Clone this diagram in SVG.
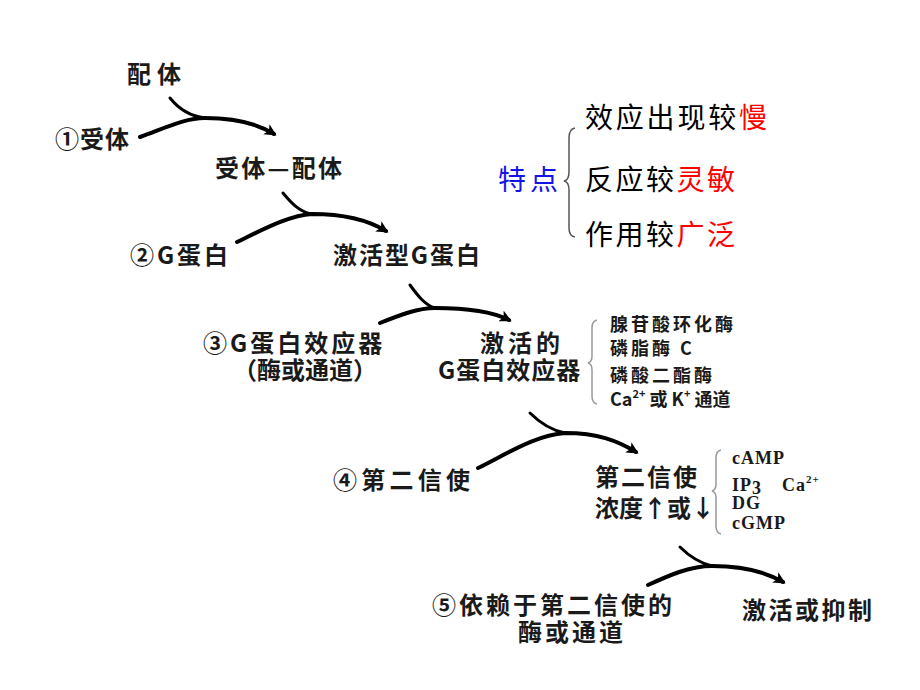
<svg xmlns="http://www.w3.org/2000/svg" width="920" height="690" viewBox="0 0 920 690">
<defs>
<style>
.l{font-family:"Noto Sans CJK SC","Noto Sans CJK TC",sans-serif;font-weight:700;font-size:24px;fill:#1a1a1a}
.s{font-family:"Noto Sans CJK SC","Noto Sans CJK TC",sans-serif;font-weight:700;font-size:18px;fill:#1a1a1a}
.m{font-family:"Liberation Serif","Noto Sans CJK SC",serif;font-weight:700;font-size:18px;fill:#1a1a1a}
.r{font-family:"Noto Sans CJK SC",sans-serif;font-weight:400;font-size:28px;fill:#000}
.red{fill:#ff0000}
.blue{fill:#1414e6}
.main{fill:none;stroke:#000;stroke-width:4;stroke-linecap:round}
.tail{fill:none;stroke:#000;stroke-width:3;stroke-linecap:round}
.brace{fill:none;stroke:#555;stroke-width:1.5}
.brace2{fill:none;stroke:#999;stroke-width:1.5}
</style>
<marker id="ah" viewBox="0 0 12 12" refX="9" refY="6" markerWidth="12" markerHeight="12" markerUnits="userSpaceOnUse" orient="auto">
<path d="M0,0 L12,6 L0,12 L3,6 z" fill="#000"/>
</marker>
</defs>
<rect width="920" height="690" fill="#fff"/>

<g id="connectors">
<path class="main" d="M140,137 C165,128 185,118 205,118 C235,118 258,124 274,134" marker-end="url(#ah)"/>
<path class="tail" d="M170,98 C178,108 188,116 205,118"/>
<path class="main" d="M237,242 C262,230 290,215 312,214 C345,214 368,220 386,231" marker-end="url(#ah)"/>
<path class="tail" d="M283,193 C292,204 300,212 312,214"/>
<path class="main" d="M380,323 C400,315 418,308 435,308 C470,308 493,312 509,320" marker-end="url(#ah)"/>
<path class="tail" d="M410,285 C418,296 425,305 435,308"/>
<path class="main" d="M478,468 C505,455 535,435 565,433 C598,433 618,441 636,452" marker-end="url(#ah)"/>
<path class="tail" d="M530,413 C540,423 550,430 565,433"/>
<path class="main" d="M648,585 C670,575 690,566 712,566 C745,566 766,572 783,582" marker-end="url(#ah)"/>
<path class="tail" d="M680,547 C690,557 700,563 712,566"/>
</g>

<g id="ligand"><text class="l" x="127" y="83" textLength="54" lengthAdjust="spacing">配体</text></g>
<g id="receptor"><text class="l" x="55" y="148" letter-spacing="1">①受体</text></g>
<g id="receptor-ligand"><text class="l" x="215" y="177" textLength="127" lengthAdjust="spacing">受体—配体</text></g>
<g id="g-protein"><text class="l" x="130" y="264" textLength="98" lengthAdjust="spacing">②G蛋白</text></g>
<g id="active-g-protein"><text class="l" x="333" y="264" textLength="147" lengthAdjust="spacing">激活型G蛋白</text></g>
<g id="effector">
<text class="l" x="203" y="352" letter-spacing="3">③G蛋白效应器<tspan x="233" dy="27" letter-spacing="0">（酶或通道）</tspan></text>
</g>
<g id="active-effector">
<text class="l" x="480" y="352" letter-spacing="4">激活的<tspan x="438" dy="27" letter-spacing="1">G蛋白效应器</tspan></text>
</g>
<g id="effector-list">
<path class="brace2" d="M597,320 Q592,321 592,328 L592,356 Q592,362 588,363 Q592,364 592,370 L592,396 Q592,403 597,404"/>
<text class="s" x="610" y="331" letter-spacing="3">腺苷酸环化酶<tspan x="610" dy="24">磷脂酶 C</tspan><tspan x="610" dy="27">磷酸二酯酶</tspan></text>
<text class="s" x="610" y="406">Ca<tspan font-size="11" dy="-8">2+</tspan><tspan dy="8"> 或 K</tspan><tspan font-size="11" dy="-8">+</tspan><tspan dy="8"> 通道</tspan></text>
</g>
<g id="second-messenger"><text class="l" x="333" y="489" textLength="137" lengthAdjust="spacing">④第二信使</text></g>
<g id="messenger-level">
<text class="l" x="595" y="486" letter-spacing="2">第二信使<tspan x="595" dy="31" letter-spacing="0">浓度↑或↓</tspan></text>
</g>
<g id="messenger-list">
<path class="brace2" d="M721,450 Q716,451 716,458 L716,484 Q716,490 712,491 Q716,492 716,498 L716,526 Q716,533 721,534"/>
<text class="m" x="732" y="464" letter-spacing="1">cAMP<tspan x="732" dy="27">IP</tspan><tspan dy="3">3</tspan><tspan dy="-3" x="782">Ca</tspan><tspan font-size="11" dy="-8">2+</tspan><tspan x="732" dy="26">DG</tspan><tspan x="732" dy="20">cGMP</tspan></text>
</g>
<g id="dependent-enzyme">
<text class="l" x="432" y="614" letter-spacing="3">⑤依赖于第二信使的<tspan x="518" dy="27" letter-spacing="3">酶或通道</tspan></text>
</g>
<g id="result"><text class="l" x="742" y="619" textLength="130" lengthAdjust="spacing">激活或抑制</text></g>

<g id="features">
<text class="r blue" x="498" y="190" textLength="60" lengthAdjust="spacing">特点</text>
<path class="brace" d="M575,128 Q569,129 569,138 L569,172 Q569,180 564,181 Q569,182 569,190 L569,228 Q569,236 575,237"/>
<text class="r" x="585" y="128" textLength="182" lengthAdjust="spacing">效应出现较<tspan class="red">慢</tspan></text>
<text class="r" x="585" y="190" textLength="150" lengthAdjust="spacing">反应较<tspan class="red">灵敏</tspan></text>
<text class="r" x="585" y="245" textLength="150" lengthAdjust="spacing">作用较<tspan class="red">广泛</tspan></text>
</g>
</svg>
